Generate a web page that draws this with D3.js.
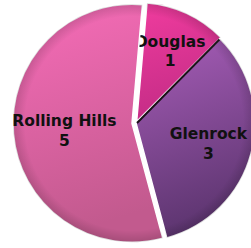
<!DOCTYPE html>
<html>
<head>
<meta charset="utf-8">
<script src="https://cdn.jsdelivr.net/npm/d3@7"></script>
<style>
  body { margin: 0; background: #fff; }
  .label { font-family: "DejaVu Sans", sans-serif; font-weight: bold; font-size: 15.5px; fill: #111; }
</style>
</head>
<body>
<div class="chart"></div>
<script>
// data
var categories = ["Douglas", "Glenrock", "Rolling Hills"];
var values = [1, 3, 5];

// gradient stops per slice (top, bottom)
var colorsTop = ["#f03c9e", "#a75db8", "#f76cb8"];
var colorsBottom = ["#c42c86", "#5d3570", "#c25a8e"];

var svgWidth = 251;
var svgHeight = 248;
var cx = 136, cy = 123;
var radius = 119;
// small explode offsets (px) along slice mid-angle
var explode = [1.5, 0, 4];
// label distance as fraction of the radius
var labelPos = [0.665, 0.63, 0.57];

var svg = d3.select(".chart")
  .append("svg")
  .attr("width", svgWidth)
  .attr("height", svgHeight);

var defs = svg.append("defs");

categories.forEach(function(c, i) {
  var g = defs.append("linearGradient")
    .attr("id", "grad" + i)
    .attr("x1", "0").attr("y1", "0")
    .attr("x2", "0.2").attr("y2", "1");
  g.append("stop").attr("offset", "0%").attr("stop-color", colorsTop[i]);
  g.append("stop").attr("offset", "100%").attr("stop-color", colorsBottom[i]);
});

// soft edge shading
var rg = defs.append("radialGradient").attr("id", "edge")
  .attr("gradientUnits", "userSpaceOnUse")
  .attr("cx", 0).attr("cy", 0).attr("r", radius);
rg.append("stop").attr("offset", "90%").attr("stop-color", "#000").attr("stop-opacity", 0);
rg.append("stop").attr("offset", "100%").attr("stop-color", "#000").attr("stop-opacity", 0.15);

var start = 5 * Math.PI / 180;
var pie = d3.pie()
  .sort(null)
  .startAngle(start)
  .endAngle(start + 2 * Math.PI);

var arcs = pie(values);

var arc = d3.arc().innerRadius(0).outerRadius(radius);

var chartGroup = svg.append("g")
  .attr("transform", `translate(${cx}, ${cy})`);

var slices = chartGroup.selectAll("g.slice")
  .data(arcs)
  .enter()
  .append("g")
  .attr("class", "slice")
  .attr("transform", function(d, i) {
    var a = (d.startAngle + d.endAngle) / 2;
    return `translate(${Math.sin(a) * explode[i]}, ${-Math.cos(a) * explode[i]})`;
  });

slices.append("path")
  .attr("d", arc)
  .attr("fill", (d, i) => "url(#grad" + i + ")")
  .attr("stroke", "#fff")
  .attr("stroke-width", 1.5);

slices.append("path")
  .attr("d", arc)
  .attr("fill", "url(#edge)");

// dark edge between Douglas and Glenrock
var edgeAngle = arcs[0].endAngle;
chartGroup.append("line")
  .attr("x1", 1).attr("y1", 0)
  .attr("x2", Math.sin(edgeAngle) * (radius - 1))
  .attr("y2", -Math.cos(edgeAngle) * (radius - 1))
  .attr("stroke", "#1a1018")
  .attr("stroke-width", 2);

slices.append("text")
  .attr("class", "label")
  .attr("text-anchor", "middle")
  .attr("transform", function(d, i) {
    var r = radius * labelPos[i];
    return `translate(${d3.arc().innerRadius(r).outerRadius(r).centroid(d)})`;
  })
  .each(function(d, i) {
    var t = d3.select(this);
    t.append("tspan").attr("x", 0).attr("dy", "-0.2em").text(categories[i]);
    t.append("tspan").attr("x", 0).attr("dy", "1.25em").text(values[i]);
  });
</script>
</body>
</html>
